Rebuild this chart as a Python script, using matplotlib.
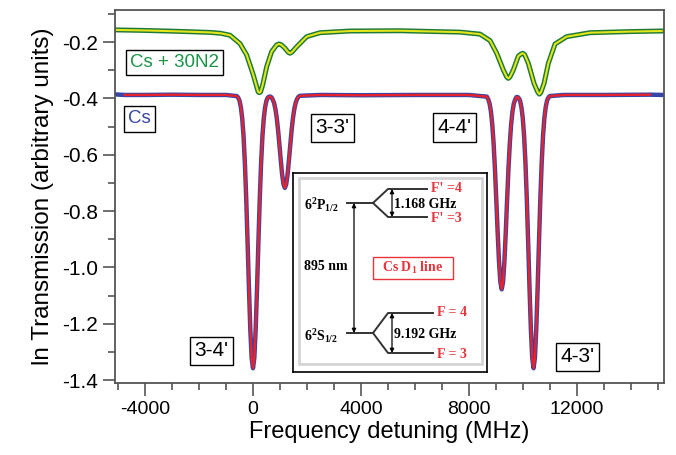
import numpy as np
import matplotlib
matplotlib.use("Agg")
import matplotlib.pyplot as plt
from matplotlib.patches import Rectangle
from matplotlib.ticker import MultipleLocator

plt.rcParams['font.family'] = ['Liberation Sans', 'DejaVu Sans']
plt.rcParams['axes.unicode_minus'] = False
plt.rcParams['mathtext.fontset'] = 'custom'
plt.rcParams['mathtext.rm'] = 'Liberation Serif:bold'
plt.rcParams['mathtext.it'] = 'Liberation Serif:bold'
plt.rcParams['mathtext.bf'] = 'Liberation Serif:bold'

# Cs cell (blue data, red fit)
cs_x = [-5110, -4750, -4000, -3000, -2000, -1000, -600, -550, -500, -450,
        -400, -350, -300, -250, -200, -150, -100, -50, 0, 50,
        100, 150, 200, 250, 300, 350, 400, 450, 500, 550,
        600, 650, 700, 780, 830, 880, 930, 980, 1030, 1080,
        1130, 1180, 1230, 1280, 1330, 1380, 1430, 1480, 1530, 1580,
        1630, 1680, 1730, 2500, 4000, 6000, 8000, 8660, 8710, 8760,
        8810, 8860, 8910, 8960, 9010, 9060, 9110, 9160, 9210, 9260,
        9310, 9360, 9410, 9460, 9510, 9560, 9610, 9660, 9710, 9760,
        9810, 9860, 9890, 9940, 9990, 10040, 10090, 10140, 10190, 10240,
        10290, 10340, 10390, 10440, 10490, 10540, 10590, 10640, 10690, 10740,
        10790, 10840, 10890, 10940, 10990, 11500, 13000, 14700, 15220]
cs_y = [-0.386, -0.388, -0.388, -0.387, -0.388, -0.388, -0.392, -0.397, -0.408, -0.431,
        -0.470, -0.534, -0.630, -0.758, -0.912, -1.074, -1.219, -1.321, -1.358, -1.321,
        -1.219, -1.074, -0.912, -0.758, -0.630, -0.534, -0.470, -0.431, -0.408, -0.397,
        -0.394, -0.394, -0.398, -0.416, -0.438, -0.470, -0.514, -0.566, -0.621, -0.671,
        -0.705, -0.718, -0.705, -0.671, -0.621, -0.566, -0.514, -0.470, -0.438, -0.416,
        -0.403, -0.395, -0.391, -0.388, -0.389, -0.388, -0.388, -0.394, -0.403, -0.418,
        -0.446, -0.492, -0.560, -0.651, -0.761, -0.876, -0.979, -1.052, -1.078, -1.052,
        -0.979, -0.876, -0.761, -0.651, -0.560, -0.492, -0.446, -0.418, -0.404, -0.395,
        -0.396, -0.402, -0.409, -0.431, -0.470, -0.534, -0.630, -0.758, -0.912, -1.074,
        -1.219, -1.321, -1.358, -1.321, -1.219, -1.074, -0.912, -0.758, -0.630, -0.534,
        -0.470, -0.431, -0.408, -0.397, -0.392, -0.388, -0.388, -0.387, -0.388]

# Cs + 30 Torr N2 (green data, yellow fit)
n2_x = [-5110, -4000, -3200, -2500, -1590, -1200, -850, -480, -235, 12,
        136, 190, 235, 280, 358, 506, 691, 880, 963, 1050,
        1185, 1300, 1370, 1440, 1617, 1988, 2481, 3590, 5440, 7670,
        8407, 8778, 9025, 9270, 9400, 9456, 9510, 9641, 9826, 9920,
        9988, 10060, 10197, 10407, 10550, 10604, 10660, 10778, 10937, 11185,
        11617, 12481, 13963, 15137]
n2_y = [-0.157, -0.159, -0.161, -0.163, -0.166, -0.169, -0.176, -0.206, -0.246, -0.317,
        -0.359, -0.377, -0.380, -0.377, -0.353, -0.288, -0.234, -0.210, -0.207, -0.210,
        -0.222, -0.236, -0.240, -0.236, -0.217, -0.181, -0.167, -0.161, -0.160, -0.165,
        -0.172, -0.195, -0.240, -0.299, -0.325, -0.329, -0.325, -0.299, -0.250, -0.243,
        -0.240, -0.245, -0.276, -0.347, -0.379, -0.385, -0.379, -0.347, -0.276, -0.207,
        -0.181, -0.167, -0.163, -0.161]

x_ticks = [-4000, 0, 4000, 8000, 12000]
y_ticks = [-1.4, -1.2, -1.0, -0.8, -0.6, -0.4, -0.2]
y_ticklabels = ['-1.4', '-1.2', '-1.0', '-0.8', '-0.6', '-0.4', '-0.2']

fig = plt.figure(figsize=(6.76, 4.55), dpi=100)
ax = fig.add_axes([115 / 676, 1 - 383 / 455, 549 / 676, 373 / 455])

cs_x = np.array(cs_x)
cs_y = np.array(cs_y)
fit = (cs_x >= -4750) & (cs_x <= 14700)
ax.plot(cs_x, cs_y, color='#3546a8', lw=3.2, solid_joinstyle='round')
ax.plot(cs_x[fit], cs_y[fit], color='#e8222c', lw=1.7)
ax.plot(n2_x, n2_y, color='#1d7a36', lw=3.6, solid_joinstyle='round')
ax.plot(n2_x, n2_y, color='#e4e41c', lw=1.5)

ax.set_xlim(-5110, 15220)
ax.set_ylim(-1.4105, -0.0864)
ax.set_xticks(x_ticks)
ax.set_xticklabels([str(v) for v in x_ticks])
ax.set_yticks(y_ticks)
ax.set_yticklabels(y_ticklabels)
ax.xaxis.set_minor_locator(MultipleLocator(1000))
ax.yaxis.set_minor_locator(MultipleLocator(0.1))
ax.tick_params(which='major', direction='out', length=9, width=1.2, color='#555555')
ax.tick_params(which='minor', direction='out', length=5, width=1.2, color='#555555')
ax.tick_params(axis='x', labelsize=14, pad=4)
ax.tick_params(axis='y', labelsize=15, pad=3)
for s in ax.spines.values():
    s.set_color('#555555')
    s.set_linewidth(1.3)

ax.set_xlabel('Frequency detuning (MHz)', fontsize=17, labelpad=2)
ax.set_ylabel('ln Transmission (arbitrary units)', fontsize=17.5, labelpad=6)

box = dict(boxstyle='square,pad=0.22', fc='white', ec='black', lw=1.0)
ax.text(0.109, 0.859, 'Cs + 30N2', color='#1a9447', fontsize=13.5, ha='center', va='center',
        transform=ax.transAxes, bbox=box)
ax.text(0.045, 0.708, 'Cs', color='#3546a8', fontsize=13.5, ha='center', va='center',
        transform=ax.transAxes, bbox=box)
for label, px, py in [("3-3'", 0.396, 0.684), ("4-4'", 0.619, 0.685),
                      ("3-4'", 0.176, 0.086), ("4-3'", 0.843, 0.070)]:
    ax.text(px, py, label, fontsize=15, ha='center', va='center',
            transform=ax.transAxes, bbox=box)

# energy level inset
ins = fig.add_axes([293 / 676, 1 - 372 / 455, 194 / 676, 199 / 455])
ins.set_xlim(0, 194)
ins.set_ylim(199, 0)
ins.set_xticks([])
ins.set_yticks([])
for s in ins.spines.values():
    s.set_color('black')
    s.set_linewidth(1.2)
ins.add_patch(Rectangle((6, 5), 183, 186, fill=False, ec='#d4d4d4', lw=2))

red = '#e8343a'
lk = dict(color='#333333', lw=1.4)
ins.plot([54, 80, 95, 134], [30, 30, 16, 16], **lk)
ins.plot([80, 95, 134], [30, 44, 44], **lk)
ins.plot([54, 80, 95, 140], [160, 160, 140, 140], **lk)
ins.plot([80, 95, 140], [160, 180, 180], **lk)

arr = dict(arrowstyle='<|-|>', color='black', lw=0.9, mutation_scale=6, shrinkA=0, shrinkB=0)
ins.annotate('', xy=(99, 16), xytext=(99, 44), arrowprops=arr)
ins.annotate('', xy=(99, 140), xytext=(99, 180), arrowprops=arr)
ins.annotate('', xy=(61, 30), xytext=(61, 160), arrowprops=arr)

tk = dict(fontsize=10, family='Liberation Serif', weight='bold', va='center')
ins.text(11, 32, r'6$^2$P$_{1/2}$', **tk)
ins.text(11, 163, r'6$^2$S$_{1/2}$', **tk)
ins.text(11, 94, '895 nm', **tk)
ins.text(101, 32, '1.168 GHz', **tk)
ins.text(101, 162, '9.192 GHz', **tk)
ins.text(138, 15, "F' =4", color=red, **tk)
ins.text(138, 45, "F' =3", color=red, **tk)
ins.text(144, 140, 'F = 4', color=red, **tk)
ins.text(144, 181, 'F = 3', color=red, **tk)
ins.add_patch(Rectangle((80, 84), 80, 22, fill=False, ec=red, lw=1.0))
ins.text(120, 95, r'Cs D$_1$ line', color=red, ha='center', fontsize=10,
         family='Liberation Serif', weight='bold', va='center')

fig.savefig('out.png', dpi=100)
